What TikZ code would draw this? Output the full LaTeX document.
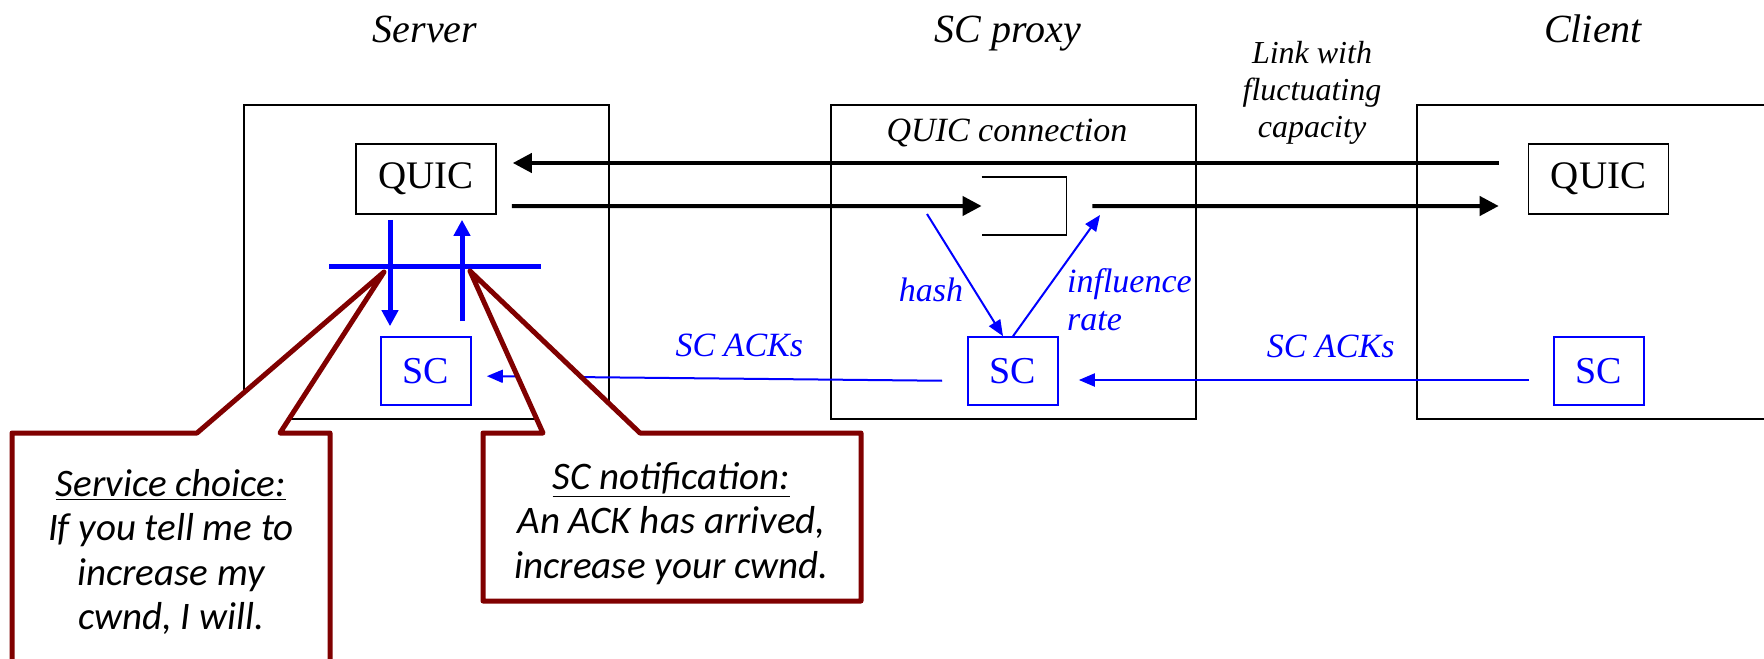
\documentclass[tikz,border=0pt]{standalone}
\usepackage{fontspec}
\setmainfont{Liberation Serif}
\newfontfamily\notefont{Carlito}
\usetikzlibrary{arrows.meta}
\definecolor{calred}{RGB}{128,0,0}

\begin{document}
\begin{tikzpicture}[x=5pt, y=-5pt,
  host/.style={draw, line width=0.8pt, minimum width=182.5pt, minimum height=157pt, inner sep=0pt},
  quicbox/.style={draw, line width=0.8pt, minimum width=70pt, minimum height=35pt, inner sep=0pt, font=\rmfamily\fontsize{19.5}{23}\selectfont},
  scbox/.style={draw=blue, text=blue, line width=0.8pt, minimum width=45pt, minimum height=34pt, inner sep=0pt, font=\rmfamily\fontsize{19}{23}\selectfont},
  bigarrow/.style={line width=2pt, -{Triangle[length=9.5pt,width=9.5pt]}},
  apiarrow/.style={blue, line width=2.5pt, -{Triangle[length=8pt,width=8pt]}},
  scarrow/.style={blue, line width=1pt, -{Triangle[length=8pt,width=6.5pt]}},
  bluelab/.style={text=blue, inner sep=0pt, font=\rmfamily\fontsize{17}{19}\selectfont\itshape},
  hdr/.style={anchor=base, font=\rmfamily\fontsize{20}{24}\selectfont\itshape},
  callout/.style={draw=calred, line width=2.5pt, line join=round, fill=white},
  calltext/.style={align=center, inner sep=0pt, font=\notefont\fontsize{19.5}{22.3}\selectfont\itshape}
]
\useasboundingbox (0,0) rectangle (176.4,65.8);

% hosts
\node[host] (srv) at (42.65,26.2) {};
\node[host] (prx) at (101.35,26.2) {};
\node[host, minimum width=191.5pt] (cli) at (160.85,26.2) {};
\node[hdr] (srvname) at (42.5,4.25) {Server};
\node[hdr] (prxname) at (100.8,4.25) {SC proxy};
\node[hdr] (cliname) at (159.3,4.25) {Client};
\node[align=center, font=\rmfamily\fontsize{16}{18.5}\selectfont\itshape] (link) at (131.2,9.3) {Link with\\fluctuating\\capacity};

% QUIC and SC boxes
\node[quicbox] (sQuic) at (42.6,17.9) {QUIC};
\node[quicbox] (cQuic) at (159.85,17.9) {QUIC};
\node[scbox] (sSC) at (42.6,37.1) {SC};
\node[scbox] (pSC) at (101.3,37.1) {SC};
\node[scbox] (cSC) at (159.9,37.1) {SC};
\node[anchor=base, font=\rmfamily\fontsize{17}{20}\selectfont\itshape] (conn) at (100.7,14.15) {QUIC connection};

% queue in the proxy
\node[inner sep=0pt, minimum width=42pt, minimum height=28.5pt] (queue) at (102.4,20.6) {};
\draw[line width=0.9pt] (queue.north west) -- (queue.north east) -- (queue.south east) -- (queue.south west);

% data path
\draw[bigarrow, shorten <=14.5pt, shorten >=8pt] ([yshift=8pt]cQuic.west) -- ([yshift=8pt]sQuic.east);
\draw[bigarrow, shorten <=7.5pt] ([yshift=-13.5pt]sQuic.east) -- (queue.west);
\draw[bigarrow, shorten <=13pt, shorten >=14.5pt] (queue.east) -- ([yshift=-13.5pt]cQuic.west);

% SC in the proxy
\coordinate (hashsrc) at (92.7,21.4);
\coordinate (ratedst) at (110,21.5);
\draw[scarrow] (hashsrc) -- ([xshift=-5pt]pSC.north) node[bluelab, pos=0.62, left=5pt] {hash};
\draw[scarrow] (pSC.north) -- (ratedst) node[bluelab, pos=0.3, right=13.5pt, align=left] {influence\\rate};

% SC ACKs
\draw[scarrow, shorten <=12pt, shorten >=10pt] ([yshift=-4.5pt]cSC.west) -- ([yshift=-4.5pt]pSC.east) node[bluelab, pos=0.45, above=10.5pt] {SC ACKs};
\draw[scarrow, shorten <=12.5pt, shorten >=7.5pt] ([yshift=-5pt]pSC.west) -- ([yshift=-2.5pt]sSC.east) node[bluelab, pos=0.46, above=10.5pt] {SC ACKs};

% server API
\draw[blue, line width=2.5pt] (32.9,26.6) -- (54.1,26.6);
\draw[apiarrow, shorten <=2.5pt, shorten >=5pt] ([xshift=-18pt]sQuic.south) -- ([xshift=-18pt]sSC.north);
\draw[apiarrow, shorten <=7.5pt, shorten >=2.5pt] ([xshift=18pt]sSC.north) -- ([xshift=18pt]sQuic.south);

% callouts
\coordinate (tipL) at (38.4,27.2);
\coordinate (tipR) at (47.0,27.1);
\draw[callout] (1.2,43.3) -- (19.7,43.3) -- (tipL) -- (28.0,43.3) -- (33.0,43.3) -- (33.0,68) -- (1.2,68) -- cycle;
\draw[callout] (48.3,43.3) -- (54.3,43.3) -- (tipR) -- (64.0,43.3) -- (86.1,43.3) -- (86.1,60.1) -- (48.3,60.1) -- cycle;
\node[calltext] (choice) at (17.1,55.2) {\underline{Service choice:}\\If you tell me to\\increase my\\cwnd, I will.};
\node[calltext] (notif) at (67.15,52.35) {\underline{SC notification:}\\An ACK has arrived,\\increase your cwnd.};
\end{tikzpicture}
\end{document}
